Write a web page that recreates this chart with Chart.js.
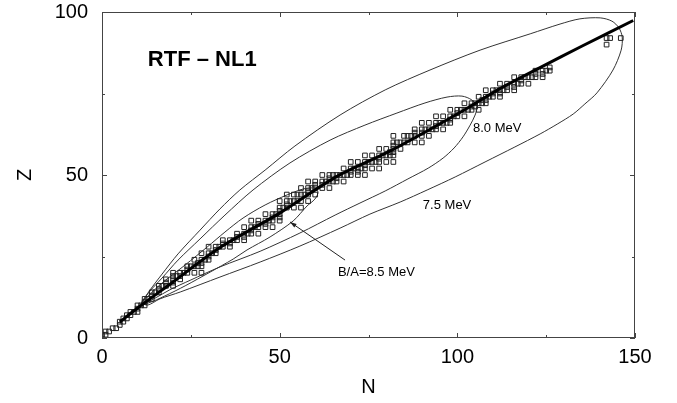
<!DOCTYPE html>
<html>
<head>
<meta charset="utf-8">
<script src="https://cdn.jsdelivr.net/npm/chart.js@4/dist/chart.umd.min.js"></script>
<style>
html,body{margin:0;padding:0;background:#fff;}
#wrap{width:677px;height:403px;}
</style>
</head>
<body>
<div id="wrap"><canvas id="c" width="677" height="403"></canvas></div>
<script>
// ---- Data ----
// Nuclides drawn as open squares: proton number and the neutron numbers shown for it
const nuclideZ = [1,2,3,4,5,6,7,8,9,10,11,12,13,14,15,16,17,18,19,20,21,22,23,24,25,26,27,28,29,30,31,32,33,34,35,36,37,38,39,40,41,42,44,45,46,47,48,49,50,51,52,53,54,55,56,57,58,59,60,62,63,64,65,66,67,68,69,70,71,72,73,74,75,76,77,78,79,80,81,82,83,90,92];
const nuclideN = [
  [0,1],[1,2],[3,4],[5],[5,6],[6,7],[7,8],[8,9,10],[10],[10,11,12],
  [12],[12,13,14],[14],[14,15,16],[16],[16,17,18,20],[18,20],[18,20,22],[20,21,22],[20,22,23,24,26,28],
  [24],[24,25,26,27,28],[27,28],[26,28,29,30],[30],[28,30,31,32],[32],[30,32,33,34,36],[34,36],[34,36,37,38,40],
  [38,40],[38,40,41,42,44],[42],[40,42,43,44,46,48],[44,46],[42,44,46,47,48,50],[48,50],[46,48,49,50],[50],[50,51,52,54,56],
  [52],[50,52,53,54,55,56,58],[52,54,55,56,57,58,60],[58],[56,58,59,60,62,64],[60,62],[58,60,62,63,64,65,66,68],[64,66],[62,64,65,66,67,68,69,70,72,74],[70,72],
  [68,70,71,72,73,74,76,78],[74],[70,72,74,75,76,77,78,80,82],[78],[74,76,78,79,80,81,82],[81,82],[78,80,82,84],[82],[82,83,84,85,86,88,90],[82,85,86,87,88,90,92],
  [88,90],[88,90,91,92,93,94,96],[94],[90,92,94,95,96,97,98],[98],[94,96,98,99,100,102],[100],[98,100,101,102,103,104,106],[104,105],[102,104,105,106,107,108],
  [107,108],[106,108,109,110,112],[110,112],[108,110,111,112,113,114,116],[114,116],[112,114,116,117,118,120],[118],[116,118,119,120,121,122,124],[122,124],[122,124,125,126],
  [126],[142],[142,143,146]
];

// Thick valley line
const lineN = [5, 10, 20, 33, 50, 66, 81, 100, 112, 123, 135, 149.5];
const lineZ = [4.9, 9.2, 17.2, 27.6, 38.3, 49.5, 57.3, 68.7, 76.5, 82.8, 89.5, 97.4];

// Contour B/A = 7.5 MeV (closed loop)
const c75N = [11.0,13.5,16.9,21.4,27.6,33.2,38.8,45.9,54.3,67.0,79.7,92.3,106.4,120.5,128.9,134.5,140.2,143.5,145.5,146.4,146.1,143.8,139.3,135.9,132.6,128.1,123.3,116.2,107.8,99.4,91.5,83.9,75.4,67.0,55.7,44.5,33.2,22.0,16.3,12.9,11.0];
const c75Z = [10.7,14.7,19.6,25.8,33.1,39.6,45.4,51.5,58.9,68.4,76.1,82.2,88.3,93.3,96.3,97.9,98.2,97.2,95.1,92.3,88.3,82.2,75.2,71.8,68.7,65.6,62.6,58.6,54.0,49.4,45.4,41.7,38.0,33.7,28.2,23.3,18.7,14.1,12.0,10.1,10.7];

// Contour B/A = 8.0 MeV (closed loop)
const c80N = [11.0,13.5,16.9,21.4,27.6,34.6,42.5,52.9,64.2,74.0,83.0,90.9,97.1,101.3,104.1,105.5,105.0,103.6,101.6,99.1,96.0,91.8,86.1,79.7,72.6,65.6,55.7,44.5,33.2,24.8,19.1,14.9,11.5,11.0];
const c80Z = [10.7,14.4,18.4,23.9,30.4,37.7,45.4,53.7,60.7,65.3,69.0,72.1,73.9,74.2,73.0,70.9,68.4,65.3,61.7,58.3,55.2,52.1,48.8,45.1,41.4,37.7,32.2,26.6,21.8,17.7,14.8,12.2,10.4,10.7];

// Contour B/A = 8.5 MeV (closed loop)
const c85N = [11.0,16.3,23.4,29.6,34.6,39.7,45.9,52.1,56.6,59.4,60.8,59.9,57.7,53.8,47.3,40.8,36.9,30.4,23.4,17.7,12.9,11.0];
const c85Z = [10.7,16.3,22.4,27.9,32.5,36.8,40.8,43.9,45.7,46.0,44.8,42.6,40.5,35.9,31.0,27.0,24.2,20.2,16.0,12.9,10.7,10.7];

// Axis ticks
const xTickValues = [0, 25, 50, 75, 100, 125, 150];
const yTickValues = [0, 25, 50, 75, 100];
const xLabelValues = [0, 50, 100, 150];
const yLabelValues = [0, 50, 100];

// Text annotations (anchored in data coordinates)
const noteText = ['RTF \u2013 NL1', '8.0 MeV', '7.5 MeV', 'B/A=8.5 MeV'];
const noteN = [12.9, 104.4, 90.3, 66.4];
const noteZ = [85.3, 64.4, 40.8, 20.2];
const noteBold = [true, false, false, false];
// Arrow from label to the 8.5 MeV contour
const arrowN = [68.4, 52.9];
const arrowZ = [23.9, 35.6];

// ---- Build datasets ----
const pts = (ns, zs) => ns.map((n, i) => ({x: n, y: zs[i]}));
const nuclidePts = [];
nuclideZ.forEach((z, i) => nuclideN[i].forEach(n => nuclidePts.push({x: n, y: z})));

const FONT = "'Liberation Sans', Arial, Helvetica, sans-serif";
const FRAME = '#444';

const decor = {
  id: 'decor',
  afterDatasetsDraw(chart) {
    const {ctx, chartArea: a, scales: {x, y}} = chart;
    ctx.save();
    ctx.strokeStyle = FRAME;
    ctx.lineWidth = 1;
    ctx.strokeRect(Math.round(a.left) + 0.5, Math.round(a.top) + 0.5, Math.round(a.right - a.left) - 1, Math.round(a.bottom - a.top) - 1);
    ctx.beginPath();
    xTickValues.forEach(v => {
      const px = Math.round(x.getPixelForValue(v)) + 0.5;
      const len = (v % 50 === 0) ? 5 : 3;
      ctx.moveTo(px, a.bottom); ctx.lineTo(px, a.bottom - len);
      ctx.moveTo(px, a.top); ctx.lineTo(px, a.top + len);
    });
    yTickValues.forEach(v => {
      const py = Math.round(y.getPixelForValue(v)) + 0.5;
      const len = (v % 50 === 0) ? 5 : 3;
      ctx.moveTo(a.left, py); ctx.lineTo(a.left + len, py);
      ctx.moveTo(a.right, py); ctx.lineTo(a.right - len, py);
    });
    ctx.stroke();
    ctx.fillStyle = '#000';
    ctx.textBaseline = 'middle';
    ctx.textAlign = 'left';
    noteText.forEach((t, i) => {
      ctx.font = (noteBold[i] ? 'bold 22px ' : '13px ') + FONT;
      ctx.fillText(t, x.getPixelForValue(noteN[i]), y.getPixelForValue(noteZ[i]));
    });
    const x0 = x.getPixelForValue(arrowN[0]), y0 = y.getPixelForValue(arrowZ[0]);
    const x1 = x.getPixelForValue(arrowN[1]), y1 = y.getPixelForValue(arrowZ[1]);
    ctx.strokeStyle = '#222';
    ctx.lineWidth = 1;
    ctx.beginPath(); ctx.moveTo(x0, y0); ctx.lineTo(x1, y1); ctx.stroke();
    const ang = Math.atan2(y1 - y0, x1 - x0), hl = 7, hw = 0.3;
    ctx.fillStyle = '#222';
    ctx.beginPath();
    ctx.moveTo(x1, y1);
    ctx.lineTo(x1 - hl * Math.cos(ang - hw), y1 - hl * Math.sin(ang - hw));
    ctx.lineTo(x1 - hl * Math.cos(ang + hw), y1 - hl * Math.sin(ang + hw));
    ctx.closePath(); ctx.fill();
    ctx.restore();
  }
};

const lineDs = (label, data, width, color, tension) => ({
  type: 'line', label, data, showLine: true, fill: false,
  borderColor: color, borderWidth: width, pointRadius: 0, tension,
  cubicInterpolationMode: 'default'
});

new Chart(document.getElementById('c'), {
  type: 'scatter',
  data: {
    datasets: [
      lineDs('valley', pts(lineN, lineZ), 3, '#000', 0.3),
      {
        label: 'nuclei', data: nuclidePts, pointStyle: 'rect', pointRadius: 3.3,
        borderWidth: 1, borderColor: '#222', backgroundColor: 'rgba(255,255,255,0)', showLine: false
      },
      lineDs('8.5 MeV', pts(c85N, c85Z), 1, '#333', 0.3),
      lineDs('8.0 MeV', pts(c80N, c80Z), 1, '#333', 0.3),
      lineDs('7.5 MeV', pts(c75N, c75Z), 1, '#333', 0.3)
    ]
  },
  options: {
    responsive: false,
    animation: false,
    devicePixelRatio: 1,
    layout: {padding: {left: 0, right: 42, top: 12, bottom: 0}},
    plugins: {legend: {display: false}, tooltip: {enabled: false}},
    scales: {
      x: {
        type: 'linear', min: 0, max: 150,
        afterFit: s => { s.height = 65; s.paddingLeft = 0; s.paddingRight = 0; },
        afterBuildTicks: s => { s.ticks = xLabelValues.map(v => ({value: v})); },
        ticks: {font: {family: FONT, size: 20}, color: '#000', padding: 7, maxRotation: 0},
        grid: {display: true, drawOnChartArea: false, drawTicks: false},
        border: {display: false},
        title: {display: true, text: 'N', font: {family: FONT, size: 20}, color: '#000', padding: {top: 0, bottom: 4}}
      },
      y: {
        type: 'linear', min: 0, max: 100,
        afterFit: s => { s.width = 102; s.paddingTop = 0; s.paddingBottom = 0; },
        afterBuildTicks: s => { s.ticks = yLabelValues.map(v => ({value: v})); },
        ticks: {font: {family: FONT, size: 20}, color: '#000', padding: 14},
        grid: {display: true, drawOnChartArea: false, drawTicks: false},
        border: {display: false},
        title: {display: true, text: 'Z', font: {family: FONT, size: 20}, color: '#000', padding: {top: 13, bottom: 0}}
      }
    }
  },
  plugins: [decor]
});
</script>
</body>
</html>
